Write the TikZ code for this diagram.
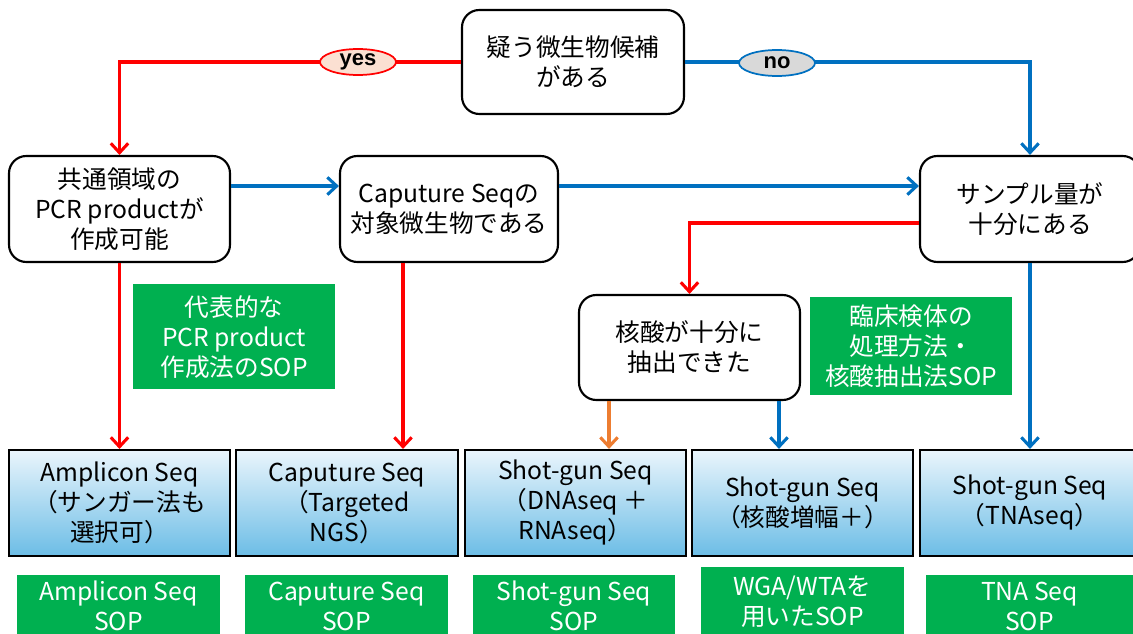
\documentclass[tikz,border=0pt]{standalone}
\usepackage{fontspec}
\setmainfont{Noto Sans CJK JP}
\newfontfamily\lab{Liberation Sans}
\usetikzlibrary{arrows.meta,shapes.geometric}
\definecolor{cred}{HTML}{FF0000}
\definecolor{cblue}{HTML}{0070C0}
\definecolor{corange}{HTML}{ED7D31}
\definecolor{sopgreen}{HTML}{00B050}
\definecolor{gtop}{HTML}{EAF5FC}
\definecolor{gbot}{HTML}{6CBDE6}
\definecolor{yesfill}{HTML}{FBE0D2}
\definecolor{nofill}{HTML}{D9D9D9}
\tikzset{
  txt/.style={font=\fontsize{18.5}{22.5}\selectfont, align=center, inner sep=0pt},
  qbox/.style={txt, draw=black, line width=1.6pt, rounded corners=13pt, fill=white},
  rbox/.style={txt, draw=black, line width=1.6pt, top color=gtop, bottom color=gbot},
  sopbox/.style={txt, fill=sopgreen, text=white},
  conn/.style={line width=2.3pt, -{Straight Barb[length=7pt,width=13pt,line width=2.3pt]}},
  lbl/.style={ellipse, line width=1.3pt, inner sep=0pt, minimum width=57pt, minimum height=19.5pt, font=\lab\bfseries\fontsize{16.5}{18}\selectfont}
}
\begin{document}
\begin{tikzpicture}[x=0.75pt,y=-0.75pt]
\useasboundingbox (0,0) rectangle (1133,634);
% question boxes
\node[qbox, minimum width=222*0.75pt, minimum height=104*0.75pt] (top) at (573,62) {疑う微生物候補\\がある};
\node[qbox, minimum width=221*0.75pt, minimum height=106*0.75pt] (A) at (119.5,209) {共通領域の\\PCR productが\\作成可能};
\node[qbox, minimum width=218*0.75pt, minimum height=106*0.75pt] (B) at (449,209) {Caputure Seqの\\対象微生物である};
\node[qbox, minimum width=220*0.75pt, minimum height=106*0.75pt] (C) at (1030,209) {サンプル量が\\十分にある};
\node[qbox, minimum width=221*0.75pt, minimum height=105*0.75pt] (D) at (689.5,347.5) {核酸が十分に\\抽出できた};
% SOP boxes (middle)
\node[sopbox, minimum width=202*0.75pt, minimum height=105*0.75pt] (G1) at (234,337) {代表的な\\PCR product\\作成法のSOP};
\node[sopbox, minimum width=202*0.75pt, minimum height=98*0.75pt] (G2) at (911,346) {臨床検体の\\処理方法・\\核酸抽出法SOP};
% result boxes
\node[rbox, minimum width=221*0.75pt, minimum height=106*0.75pt] (R1) at (119.5,503) {Amplicon Seq\\（サンガー法も\\選択可）};
\node[rbox, minimum width=222*0.75pt, minimum height=106*0.75pt] (R2) at (347,503) {Caputure Seq\\（Targeted\\NGS）};
\node[rbox, minimum width=221*0.75pt, minimum height=106*0.75pt] (R3) at (575.5,503) {Shot-gun Seq\\（DNAseq ＋\\RNAseq）};
\node[rbox, minimum width=221*0.75pt, minimum height=106*0.75pt] (R4) at (802.5,503) {Shot-gun Seq\\（核酸増幅＋）};
\node[rbox, minimum width=220*0.75pt, minimum height=106*0.75pt] (R5) at (1030,503) {Shot-gun Seq\\（TNAseq）};
% SOP boxes (bottom)
\node[sopbox, minimum width=203*0.75pt, minimum height=62*0.75pt] (S1) at (118.5,606) {Amplicon Seq\\SOP};
\node[sopbox, minimum width=203*0.75pt, minimum height=62*0.75pt] (S2) at (346.5,606) {Caputure Seq\\SOP};
\node[sopbox, minimum width=202*0.75pt, minimum height=62*0.75pt] (S3) at (574,606) {Shot-gun Seq\\SOP};
\node[sopbox, minimum width=203*0.75pt, minimum height=70*0.75pt] (S4) at (802.5,602) {WGA/WTAを\\用いたSOP};
\node[sopbox, minimum width=207*0.75pt, minimum height=62*0.75pt] (S5) at (1029.5,606) {TNA Seq\\SOP};
% helper coordinates
\coordinate (ybl) at (0,186);
\coordinate (yrl) at (0,223);
\coordinate (xB) at (403,0);
\coordinate (xO) at (609,0);
\coordinate (xU) at (779,0);
% connectors
\draw[conn, cred] (top.west) -| (A.north);
\draw[conn, cblue] (top.east) -| (C.north);
\draw[conn, cred] (A.south) -- (R1.north);
\draw[conn, cblue] (A.east |- ybl) -- (B.west |- ybl);
\draw[conn, cblue] (B.east |- ybl) -- (C.west |- ybl);
\draw[conn, cred] (B.south -| xB) -- (R2.north -| xB);
\draw[conn, cred] (C.west |- yrl) -| (D.north);
\draw[conn, cblue] (C.south) -- (R5.north);
\draw[conn, corange] (D.south -| xO) -- (R3.north -| xO);
\draw[conn, cblue] (D.south -| xU) -- (R4.north -| xU);
% labels
\node[lbl, draw=cred, fill=yesfill] (yes) at (358,62) {yes};
\node[lbl, draw=cblue, fill=nofill] (no) at (777,63) {no};
\end{tikzpicture}
\end{document}
